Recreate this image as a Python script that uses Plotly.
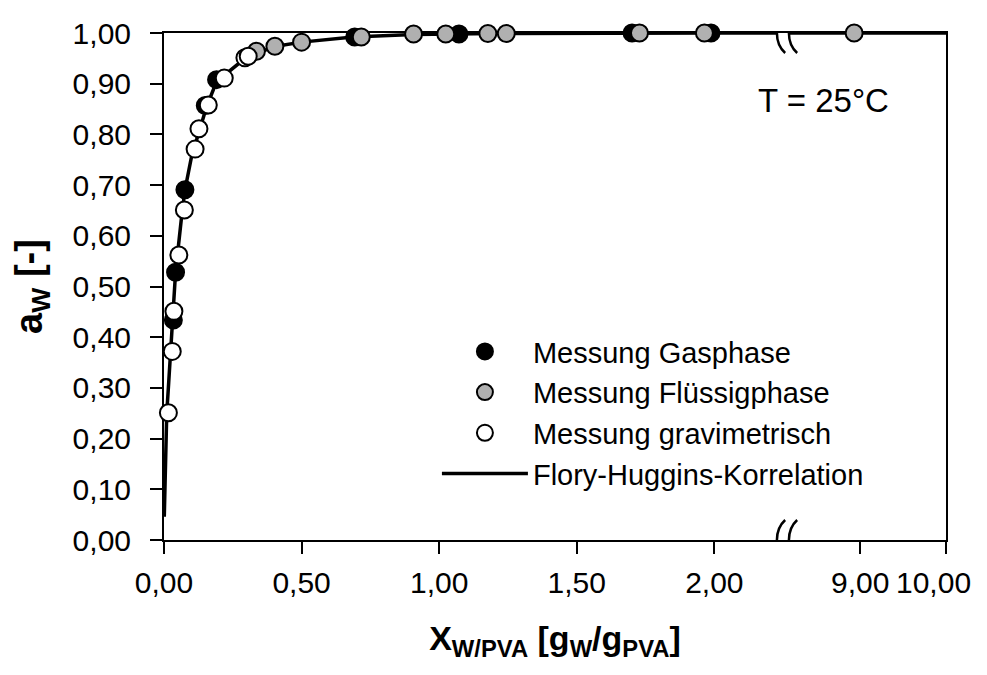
import plotly.graph_objects as go

# ---------------- data (real x values in g_W/g_PVA) ----------------
gas_x = [0.034, 0.042, 0.076, 0.150, 0.191, 0.693, 1.072, 1.701, 1.988]
gas_y = [0.434, 0.528, 0.691, 0.857, 0.908, 0.992, 0.998, 1.000, 1.000]

liq_x = [0.336, 0.403, 0.500, 0.717, 0.907, 1.024, 1.177, 1.244, 1.728, 1.964, 8.93]
liq_y = [0.964, 0.974, 0.982, 0.992, 0.998, 0.998, 0.999, 0.999, 1.000, 1.000, 1.000]

grav_x = [0.016, 0.030, 0.036, 0.054, 0.074, 0.113, 0.127, 0.161, 0.219, 0.294, 0.306]
grav_y = [0.251, 0.372, 0.451, 0.562, 0.651, 0.771, 0.811, 0.858, 0.911, 0.951, 0.954]

fh_x = [0.001, 0.005, 0.010, 0.017, 0.024, 0.031, 0.034, 0.042, 0.064, 0.076, 0.100,
        0.125, 0.155, 0.191, 0.288, 0.397, 0.500, 0.687, 0.905, 1.200, 1.500, 2.000,
        9.000, 10.000]
fh_y = [0.046, 0.150, 0.250, 0.310, 0.370, 0.430, 0.473, 0.528, 0.638, 0.690, 0.756,
        0.802, 0.855, 0.904, 0.947, 0.973, 0.982, 0.992, 0.997, 0.999, 1.000, 1.000,
        1.000, 1.000]

x_tick_values = [0.0, 0.5, 1.0, 1.5, 2.0, 9.0, 10.0]
x_tick_labels = ["0,00", "0,50", "1,00", "1,50", "2,00", "9,00", "10,00"]
y_tick_values = [0.0, 0.1, 0.2, 0.3, 0.4, 0.5, 0.6, 0.7, 0.8, 0.9, 1.0]
y_tick_labels = ["0,00", "0,10", "0,20", "0,30", "0,40", "0,50",
                 "0,60", "0,70", "0,80", "0,90", "1,00"]

# ---------------- broken x-axis scale ----------------
SEG1_END = 2.3          # last real value of the first segment
SEG2_START_REAL = 9.0
SEG2_START_PLOT = 2.530
SEG2_SCALE = 0.312
BREAK_PLOT = 2.272


def to_plot(x):
    if x <= SEG1_END:
        return x
    return SEG2_START_PLOT + (x - SEG2_START_REAL) * SEG2_SCALE


def tp(xs):
    return [to_plot(v) for v in xs]


FONT = "Liberation Sans, Arial, sans-serif"

fig = go.Figure()

fig.add_trace(go.Scatter(
    x=tp(fh_x), y=fh_y, mode="lines", name="Flory-Huggins-Korrelation",
    line=dict(color="black", width=3.5), legendrank=4, cliponaxis=False))

fig.add_trace(go.Scatter(
    x=tp(gas_x), y=gas_y, mode="markers", name="Messung Gasphase",
    marker=dict(size=17, color="black", line=dict(color="black", width=2)),
    legendrank=1, cliponaxis=False))

fig.add_trace(go.Scatter(
    x=tp(liq_x), y=liq_y, mode="markers", name="Messung Flüssigphase",
    marker=dict(size=17, color="#b0b0b0", line=dict(color="black", width=2)),
    legendrank=2, cliponaxis=False))

fig.add_trace(go.Scatter(
    x=tp(grav_x), y=grav_y, mode="markers", name="Messung gravimetrisch",
    marker=dict(size=17, color="white", line=dict(color="black", width=2)),
    legendrank=3, cliponaxis=False))

# axis-break symbols on bottom and top axis
shapes = []
for yb in (0.0, 1.0):
    shapes.append(dict(
        type="path", xref="x", yref="y", xsizemode="pixel", ysizemode="pixel",
        xanchor=BREAK_PLOT, yanchor=yb,
        path="M -4,20 C -15,10 -15,-10 -4,-20 L 8,-20 C -3,-10 -3,10 8,20 Z",
        fillcolor="white", line=dict(width=0), layer="above"))
    for off in (-4, 8):
        shapes.append(dict(
            type="path", xref="x", yref="y", xsizemode="pixel", ysizemode="pixel",
            xanchor=BREAK_PLOT, yanchor=yb,
            path=f"M {off},20 C {off-11},10 {off-11},-10 {off},-20",
            line=dict(color="black", width=2.5), layer="above"))

# last tick label is drawn right-aligned so it stays inside the window
tick_text_axis = x_tick_labels[:-1] + [""]

fig.update_layout(
    width=979, height=659,
    margin=dict(l=156, r=41, t=25, b=127),
    paper_bgcolor="white", plot_bgcolor="white",
    font=dict(family=FONT, size=30, color="black"),
    showlegend=True,
    legend=dict(
        x=0.349, y=0.422, xanchor="left", yanchor="top",
        bgcolor="rgba(0,0,0,0)", font=dict(size=29, family=FONT),
        tracegroupgap=0, itemwidth=86,
    ),
    shapes=shapes,
    annotations=[
        dict(text="T = 25°C", x=0.843, y=0.867, xref="paper", yref="paper",
             showarrow=False, font=dict(size=33, family=FONT),
             xanchor="center", yanchor="middle"),
        dict(text=x_tick_labels[-1], x=1.0345, y=-0.0845, xref="paper", yref="paper",
             showarrow=False, font=dict(size=30, family=FONT),
             xanchor="right", yanchor="middle"),
    ],
)

fig.update_xaxes(
    automargin=False,
    range=[0, to_plot(10.0)], tickmode="array",
    tickvals=tp(x_tick_values), ticktext=tick_text_axis,
    ticks="outside", ticklen=12, tickwidth=2, tickcolor="black",
    showline=True, linewidth=2, linecolor="black", mirror=True,
    showgrid=False, zeroline=False, layer="below traces",
    tickfont=dict(size=30, family=FONT), ticklabelstandoff=3,
    ticklabeloverflow="allow",
    title=dict(text="<b>X<sub>W/PVA</sub> [g<sub>W</sub>/g<sub>PVA</sub>]</b>",
               font=dict(size=34, family=FONT), standoff=28),
)

fig.update_yaxes(
    automargin=False,
    range=[0, 1.0], tickmode="array",
    tickvals=y_tick_values, ticktext=y_tick_labels,
    ticks="outside", ticklen=12, tickwidth=2, tickcolor="black",
    showline=True, linewidth=2, linecolor="black", mirror=True,
    showgrid=False, zeroline=False, layer="below traces",
    tickfont=dict(size=30, family=FONT), ticklabelstandoff=13,
    title=dict(text="<b>a<sub>W</sub> [-]</b>",
               font=dict(size=38, family=FONT), standoff=38),
)

fig.write_html("out.html")
